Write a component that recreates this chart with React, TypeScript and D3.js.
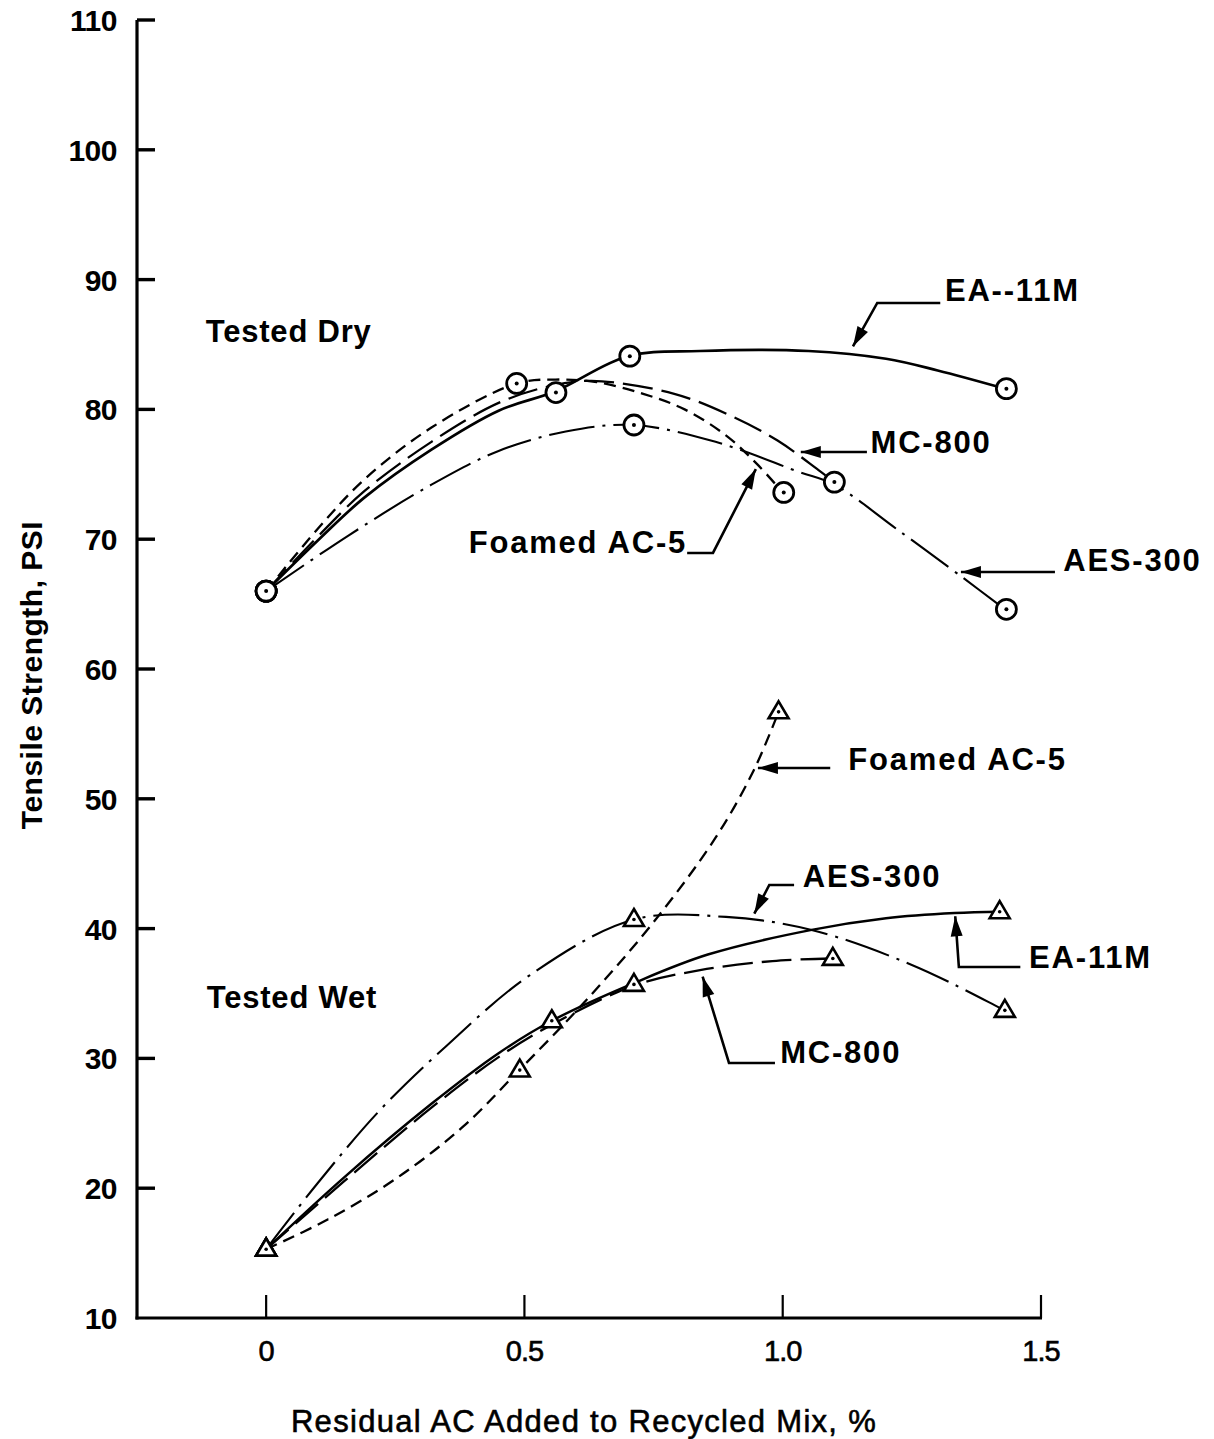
import React from 'react';
import * as d3 from 'd3';

// ---------- axes ----------
const X_TICKS = [0, 0.5, 1.0, 1.5];
const X_TICK_LABELS = ['0', '0.5', '1.0', '1.5'];
const Y_TICKS = [10, 20, 30, 40, 50, 60, 70, 80, 90, 100, 110];
const X_TITLE = 'Residual AC Added to Recycled Mix, %';
const Y_TITLE = 'Tensile Strength, PSI';

// ---------- Tested Dry: fitted curves ----------
const EA_DRY_X = [0, 0.1, 0.19, 0.32, 0.45, 0.56, 0.70, 0.84, 1.05, 1.2, 1.3, 1.43];
const EA_DRY_Y = [66, 69.9, 73.2, 76.9, 79.9, 81.4, 84.1, 84.5, 84.5, 83.9, 83.0, 81.6];
const MC_DRY_X = [0, 0.1, 0.19, 0.32, 0.45, 0.55, 0.63, 0.79, 0.9, 0.99, 1.07, 1.1];
const MC_DRY_Y = [66, 70.2, 73.7, 77.5, 80.5, 81.8, 82.2, 81.2, 79.5, 77.6, 75.3, 74.4];
const FOAM_DRY_X = [0, 0.1, 0.19, 0.32, 0.485, 0.56, 0.64, 0.73, 0.81, 0.89, 0.95, 1.0];
const FOAM_DRY_Y = [66, 70.8, 74.6, 78.6, 82.0, 82.3, 82.1, 81.2, 80.0, 78.0, 75.8, 73.6];
const AES_DRY_X = [0, 0.16, 0.32, 0.45, 0.58, 0.71, 0.87, 1.03, 1.1, 1.22, 1.35, 1.43];
const AES_DRY_Y = [66, 70.3, 74.2, 76.8, 78.3, 78.8, 77.5, 75.2, 74.2, 70.8, 67.0, 64.6];

// ---------- Tested Dry: measured points ----------
const EA_DRY_PTS_X = [0, 0.561, 0.704, 1.433];
const EA_DRY_PTS_Y = [66, 81.3, 84.1, 81.6];
const MC_DRY_PTS_X = [0, 1.10];
const MC_DRY_PTS_Y = [66, 74.4];
const FOAM_DRY_PTS_X = [0, 0.485, 1.002];
const FOAM_DRY_PTS_Y = [66, 82.0, 73.6];
const AES_DRY_PTS_X = [0, 0.712, 1.433];
const AES_DRY_PTS_Y = [66, 78.8, 64.6];

// ---------- Tested Wet: fitted curves ----------
const EA_WET_X = [0, 0.15, 0.32, 0.45, 0.553, 0.712, 0.855, 1.056, 1.2, 1.333, 1.42];
const EA_WET_Y = [15.3, 20.8, 26.5, 30.4, 32.9, 35.8, 38.0, 39.9, 40.8, 41.2, 41.3];
const MC_WET_X = [0, 0.15, 0.32, 0.45, 0.553, 0.712, 0.84, 0.98, 1.097];
const MC_WET_Y = [15.3, 20.5, 26.2, 30.1, 32.6, 35.6, 36.8, 37.5, 37.7];
const FOAM_WET_X = [0, 0.12, 0.25, 0.38, 0.49, 0.62, 0.75, 0.87, 0.944, 0.992];
const FOAM_WET_Y = [15.3, 17.6, 20.7, 24.7, 29.1, 34.5, 40.5, 47.0, 52.2, 56.7];
const AES_WET_X = [0, 0.1, 0.22, 0.35, 0.51, 0.712, 0.89, 1.056, 1.25, 1.41, 1.433];
const AES_WET_Y = [15.3, 20.4, 26.0, 31.0, 36.4, 40.7, 40.9, 39.9, 37.2, 34.1, 33.6];

// ---------- Tested Wet: measured points ----------
const EA_WET_PTS_X = [0, 0.553, 0.712, 1.42];
const EA_WET_PTS_Y = [15.3, 32.9, 35.7, 41.3];
const MC_WET_PTS_X = [0, 1.097];
const MC_WET_PTS_Y = [15.3, 37.7];
const FOAM_WET_PTS_X = [0, 0.491, 0.992];
const FOAM_WET_PTS_Y = [15.3, 29.1, 56.7];
const AES_WET_PTS_X = [0, 0.712, 1.43];
const AES_WET_PTS_Y = [15.3, 40.7, 33.7];

// ---------- labels ----------
const GROUP_LABELS = ['Tested Dry', 'Tested Wet'];
const SERIES_LABELS = ['EA--11M', 'MC-800', 'Foamed AC-5', 'AES-300', 'Foamed AC-5', 'AES-300', 'EA-11M', 'MC-800'];

const zip = (xs: number[], ys: number[]): [number, number][] => xs.map((v, i) => [v, ys[i]]);

const FONT = "'Liberation Sans', Arial, Helvetica, sans-serif";

export default function App() {
  const W = 1214, H = 1439;
  const x = d3.scaleLinear().domain([-0.25, 1.5]).range([137, 1041]);
  const y = d3.scaleLinear().domain([10, 110]).range([1318, 20]);
  const line = d3
    .line<[number, number]>()
    .x((d) => x(d[0]))
    .y((d) => y(d[1]))
    .curve(d3.curveCatmullRom.alpha(0.5));

  const SOLID = 'none';
  const LONG = '30 9';
  const SHORT = '12 7';
  const DASHDOT = '46 8 3 8';

  const curves = [
    { d: zip(EA_DRY_X, EA_DRY_Y), dash: SOLID, w: 2.7 },
    { d: zip(MC_DRY_X, MC_DRY_Y), dash: LONG, w: 2.3 },
    { d: zip(FOAM_DRY_X, FOAM_DRY_Y), dash: SHORT, w: 2.3 },
    { d: zip(AES_DRY_X, AES_DRY_Y), dash: DASHDOT, w: 2.1 },
    { d: zip(EA_WET_X, EA_WET_Y), dash: SOLID, w: 2.5 },
    { d: zip(MC_WET_X, MC_WET_Y), dash: LONG, w: 2.3 },
    { d: zip(FOAM_WET_X, FOAM_WET_Y), dash: SHORT, w: 2.3 },
    { d: zip(AES_WET_X, AES_WET_Y), dash: DASHDOT, w: 2.1 },
  ];

  const circles = [
    ...zip(EA_DRY_PTS_X, EA_DRY_PTS_Y),
    ...zip(MC_DRY_PTS_X, MC_DRY_PTS_Y),
    ...zip(FOAM_DRY_PTS_X, FOAM_DRY_PTS_Y),
    ...zip(AES_DRY_PTS_X, AES_DRY_PTS_Y),
  ];
  const triangles = [
    ...zip(EA_WET_PTS_X, EA_WET_PTS_Y),
    ...zip(MC_WET_PTS_X, MC_WET_PTS_Y),
    ...zip(FOAM_WET_PTS_X, FOAM_WET_PTS_Y),
    ...zip(AES_WET_PTS_X, AES_WET_PTS_Y),
  ];

  // annotation layout (data coordinates)
  const notes = [
    { t: SERIES_LABELS[0], tx: 1.314, ty: 88.35, anchor: 'start', path: [[1.305, 88.2], [1.183, 88.2], [1.136, 84.85]] },
    { t: SERIES_LABELS[1], tx: 1.17, ty: 76.64, anchor: 'start', path: [[1.163, 76.72], [1.035, 76.72]] },
    { t: SERIES_LABELS[2], tx: 0.815, ty: 68.94, anchor: 'end', path: [[0.815, 68.94], [0.865, 68.94], [0.948, 75.4]] },
    { t: SERIES_LABELS[3], tx: 1.543, ty: 67.55, anchor: 'start', path: [[1.527, 67.47], [1.345, 67.47]] },
    { t: SERIES_LABELS[4], tx: 1.127, ty: 52.22, anchor: 'start', path: [[1.092, 52.37], [0.952, 52.37]] },
    { t: SERIES_LABELS[5], tx: 1.039, ty: 43.2, anchor: 'start', path: [[1.022, 43.36], [0.974, 43.36], [0.945, 41.15]] },
    { t: SERIES_LABELS[6], tx: 1.477, ty: 36.97, anchor: 'start', path: [[1.46, 37.04], [1.341, 37.04], [1.334, 40.95]] },
    { t: SERIES_LABELS[7], tx: 0.995, ty: 29.65, anchor: 'start', path: [[0.985, 29.65], [0.896, 29.65], [0.845, 36.3]] },
  ];

  const arrowHead = (p: number[][]) => {
    const n = p.length;
    const x1 = x(p[n - 2][0]), y1 = y(p[n - 2][1]);
    const x2 = x(p[n - 1][0]), y2 = y(p[n - 1][1]);
    const a = Math.atan2(y2 - y1, x2 - x1);
    const L = 20, Hw = 6;
    const bx = x2 - L * Math.cos(a), by = y2 - L * Math.sin(a);
    const px = -Math.sin(a) * Hw, py = Math.cos(a) * Hw;
    return `M${x2},${y2}L${bx + px},${by + py}L${bx - px},${by - py}Z`;
  };

  const tri = (cx: number, cy: number) => {
    const s = 10, h = 17;
    return `M${cx},${cy - h * 0.62}L${cx + s},${cy + h * 0.38}L${cx - s},${cy + h * 0.38}Z`;
  };

  return (
    <svg
      width={W}
      height={H}
      viewBox={`0 0 ${W} ${H}`}
      style={{ position: 'absolute', left: 0, top: 0, display: 'block', background: '#fff' }}
    >
      <rect width={W} height={H} fill="#fff" />

      {/* axes */}
      <line x1={x(-0.25)} y1={y(110)} x2={x(-0.25)} y2={y(10) + 1.5} stroke="#000" strokeWidth={3.2} />
      <line x1={x(-0.25) - 1.5} y1={y(10)} x2={x(1.5) + 1} y2={y(10)} stroke="#000" strokeWidth={3.2} />
      {Y_TICKS.slice(1).map((t) => (
        <line key={'yt' + t} x1={x(-0.25)} x2={x(-0.25) + 18} y1={y(t)} y2={y(t)} stroke="#000" strokeWidth={3.4} />
      ))}
      {X_TICKS.map((t) => (
        <line key={'xt' + t} x1={x(t)} x2={x(t)} y1={y(10)} y2={y(10) - 23} stroke="#000" strokeWidth={2.2} />
      ))}
      {Y_TICKS.map((t) => (
        <text
          key={'yl' + t}
          x={x(-0.25) - 20}
          y={y(t) + 11}
          textAnchor="end"
          fontFamily={FONT}
          fontWeight="bold"
          fontSize={30}
          letterSpacing={-0.5}
        >
          {t}
        </text>
      ))}
      {X_TICK_LABELS.map((lab, i) => (
        <text
          key={'xl' + i}
          x={x(X_TICKS[i])}
          y={y(10) + 43}
          textAnchor="middle"
          fontFamily={FONT}
          fontSize={29}
          stroke="#000"
          strokeWidth={0.6}
          letterSpacing={-1}
        >
          {lab}
        </text>
      ))}
      <text
        x={584}
        y={1432}
        textAnchor="middle"
        fontFamily={FONT}
        fontSize={31}
        letterSpacing={1.3}
        stroke="#000"
        strokeWidth={0.6}
      >
        {X_TITLE}
      </text>
      <text
        transform={`translate(42,675) rotate(-90)`}
        textAnchor="middle"
        fontFamily={FONT}
        fontWeight="bold"
        fontSize={30}
        letterSpacing={0.5}
      >
        {Y_TITLE}
      </text>

      {/* curves */}
      {curves.map((c, i) => (
        <path
          key={'c' + i}
          d={line(c.d) || ''}
          fill="none"
          stroke="#000"
          strokeWidth={c.w}
          strokeDasharray={c.dash === 'none' ? undefined : c.dash}
          strokeLinecap="butt"
        />
      ))}

      {/* markers */}
      {circles.map((p, i) => (
        <g key={'o' + i}>
          <circle cx={x(p[0])} cy={y(p[1])} r={10} fill="#fff" stroke="#000" strokeWidth={2.8} />
          <circle cx={x(p[0])} cy={y(p[1])} r={2} fill="#000" />
        </g>
      ))}
      {triangles.map((p, i) => (
        <g key={'t' + i}>
          <path d={tri(x(p[0]), y(p[1]))} fill="#fff" stroke="#000" strokeWidth={2.6} strokeLinejoin="miter" />
          <circle cx={x(p[0])} cy={y(p[1])} r={1.8} fill="#000" />
        </g>
      ))}

      {/* group labels */}
      <text x={x(-0.117)} y={y(85.19)} fontFamily={FONT} fontWeight="bold" fontSize={31} letterSpacing={0.8}>
        {GROUP_LABELS[0]}
      </text>
      <text x={x(-0.115)} y={y(33.88)} fontFamily={FONT} fontWeight="bold" fontSize={31} letterSpacing={0.8}>
        {GROUP_LABELS[1]}
      </text>

      {/* annotations */}
      {notes.map((n, i) => (
        <g key={'n' + i}>
          <path
            d={'M' + n.path.map((p) => `${x(p[0])},${y(p[1])}`).join('L')}
            fill="none"
            stroke="#000"
            strokeWidth={2.6}
          />
          <path d={arrowHead(n.path)} fill="#000" />
          <text
            x={x(n.tx)}
            y={y(n.ty)}
            textAnchor={n.anchor as any}
            fontFamily={FONT}
            fontWeight="bold"
            fontSize={31}
            letterSpacing={1.8}
          >
            {n.t}
          </text>
        </g>
      ))}
    </svg>
  );
}
